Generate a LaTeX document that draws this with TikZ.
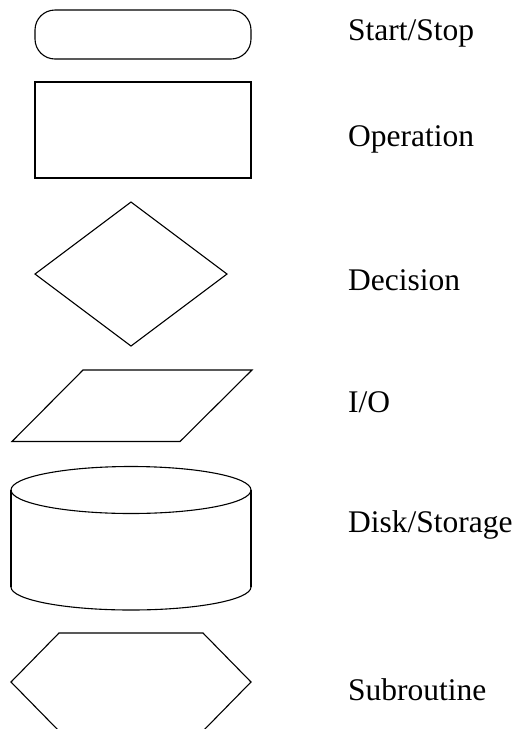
\documentclass[tikz,border=0pt]{standalone}
\usepackage{fontspec}
\setmainfont{Liberation Serif}
\begin{document}
\begin{tikzpicture}[x=1pt,y=-1pt,
  shapeline/.style={draw=black,line width=1.1pt,line join=miter},
  lbl/.style={anchor=base west,inner sep=0pt,font=\fontsize{31.5}{38}\selectfont}]
\useasboundingbox (0,0) rectangle (517,729);
\clip (0,0) rectangle (517,729);
\fill[white] (0,0) rectangle (517,729);
% Start/Stop
\draw[shapeline,rounded corners=20pt] (35,10) rectangle (251,59);
% Operation
\draw[shapeline,line width=2.2pt] (35,82) rectangle (251,178);
% Decision
\draw[shapeline] (35,274) -- (131,202) -- (227,274) -- (131,346) -- cycle;
% I/O
\draw[shapeline] (83,370) -- (252,370) -- (180,441.5) -- (12,441.5) -- cycle;
% Disk/Storage
\draw[shapeline] (131,490) ellipse [x radius=120, y radius=23.5];
\draw[shapeline,line width=1.5pt] (11,490) -- (11,587);
\draw[shapeline,line width=1.5pt] (251,490) -- (251,587);
\draw[shapeline] (11,587) arc[start angle=180, end angle=0, x radius=120, y radius=23];
% Subroutine
\draw[shapeline] (59,633) -- (203,633) -- (251,682) -- (203,731) -- (59,731) -- (11,682) -- cycle;
% Labels
\node[lbl] (l1) at (348,40) {Start/Stop};
\node[lbl] (l2) at (348,146) {Operation};
\node[lbl] (l3) at (348,290) {Decision};
\node[lbl] (l4) at (348,412) {I/O};
\node[lbl] (l5) at (348,532) {Disk/Storage};
\node[lbl] (l6) at (348,700) {Subroutine};
\end{tikzpicture}
\end{document}
